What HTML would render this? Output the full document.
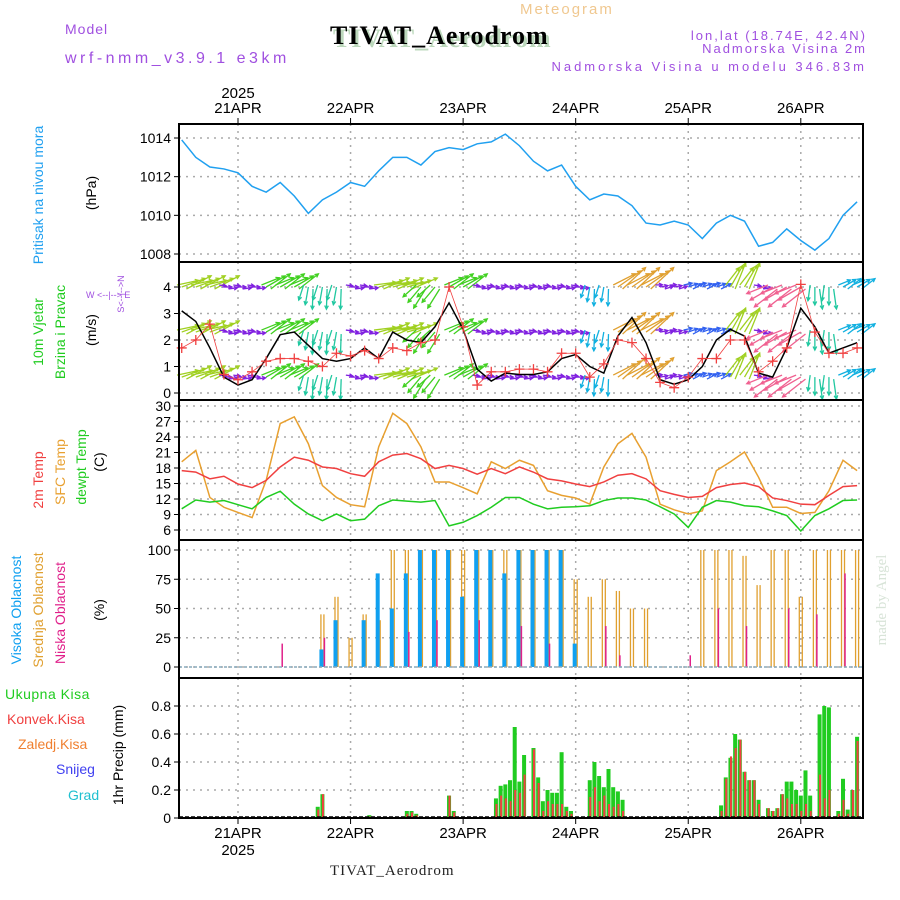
<!DOCTYPE html>
<html><head><meta charset="utf-8"><style>
body{margin:0;background:#fff;width:900px;height:900px;overflow:hidden;font-family:"Liberation Sans",sans-serif}
svg{display:block}
</style></head><body>
<svg id="chart" width="900" height="900" xmlns="http://www.w3.org/2000/svg"></svg>
<script>
const hours3=[12,15,18,21,24,27,30,33,36,39,42,45,48,51,54,57,60,63,66,69,72,75,78,81,84,87,90,93,96,99,102,105,108,111,114,117,120,123,126,129,132,135,138,141,144,147,150,153,156];
const pressure=[1013.9,1013.0,1012.5,1012.4,1012.2,1011.5,1011.2,1011.7,1011.0,1010.1,1010.8,1011.2,1011.7,1011.5,1012.3,1013.0,1013.0,1012.6,1013.3,1013.5,1013.4,1013.7,1013.8,1014.2,1013.6,1012.8,1012.3,1012.6,1011.5,1010.8,1011.1,1011.0,1010.5,1009.6,1009.5,1009.7,1009.5,1008.8,1009.6,1010.0,1009.7,1008.4,1008.6,1009.3,1008.7,1008.2,1008.8,1010.0,1010.7];
const windSpeed=[3.1,2.7,1.7,0.6,0.3,0.5,1.3,2.2,2.3,1.8,1.3,1.2,1.3,1.7,1.3,2.3,2.0,1.9,2.5,3.4,2.4,0.9,0.45,0.75,0.7,0.7,0.8,1.3,1.45,1.0,0.75,2.15,2.85,1.9,0.5,0.33,0.5,1.0,2.0,2.4,2.15,0.75,0.6,1.7,3.2,2.5,1.5,1.7,1.9];
const windGust=[1.7,2.0,2.6,0.7,0.5,0.8,1.2,1.3,1.3,1.2,1.0,1.5,1.4,1.6,1.3,1.7,1.6,1.9,2.0,4.0,2.5,0.3,0.8,0.8,0.9,0.9,0.8,1.5,1.5,0.6,1.1,2.0,1.9,1.3,0.4,0.2,0.6,1.3,1.3,2.0,2.0,0.8,1.2,1.7,4.1,2.3,1.5,1.5,1.7];
const windDir=[20,20,20,0,0,0,30,30,30,-100,-100,-100,0,0,15,15,15,-130,-130,30,30,0,0,0,0,0,0,0,0,-100,-100,35,35,35,10,10,20,20,20,60,60,0,-150,-150,-150,-90,-90,30,30];
const windLen=[25,25,25,8,8,8,22,22,22,18,18,18,8,8,25,25,25,20,20,22,22,8,8,8,8,8,8,8,8,15,15,28,28,28,8,8,10,10,10,25,25,8,26,26,26,18,18,15,15];
const t2m=[17.5,17.2,15.9,16.4,14.9,14.2,15.6,18.2,20.1,19.5,18.2,17.9,16.9,16.4,19.2,20.5,20.8,19.8,17.9,18.5,17.9,16.8,17.9,16.9,18.2,17.2,15.9,15.5,14.9,14.4,15.3,16.6,16.9,15.9,13.6,12.9,12.3,12.5,14.2,14.8,15.1,14.4,12.2,11.7,11.0,10.9,12.7,14.4,14.6];
const tSfc=[19.2,21.4,12.3,10.4,9.4,8.4,15.6,26.6,27.9,22.7,14.6,12.3,10.9,10.5,22.1,28.6,26.6,22.1,15.3,15.3,14.2,13.0,19.2,17.9,19.5,18.5,13.6,12.7,12.2,11.0,18.2,22.7,24.7,20.1,11.0,9.9,9.1,9.7,17.5,19.2,21.1,16.2,10.4,10.4,9.2,9.4,13.6,19.5,17.5];
const tDew=[10.1,11.8,11.4,11.7,10.9,10.1,12.3,13.5,11.0,9.1,7.8,9.1,7.8,8.1,10.7,11.8,11.6,11.4,11.7,6.8,7.5,8.8,10.4,12.3,12.3,11.0,10.1,10.4,10.5,10.7,11.7,12.2,12.2,11.8,10.5,9.1,6.5,10.4,11.7,11.4,10.7,10.5,9.7,8.8,5.8,8.8,10.1,11.7,11.8];
const cloudHigh=[0,0,0,0,0,0,0,0,0,0,15,40,0,40,80,50,80,100,100,100,60,100,100,80,100,100,100,100,20,0,0,0,0,0,0,0,0,0,0,0,0,0,0,0,0,0,0,0,0];
const cloudMid=[0,0,0,0,0,0,0,0,0,0,45,60,25,45,40,100,100,100,100,100,100,100,100,100,100,100,100,100,75,60,75,65,50,50,0,0,0,100,100,100,95,70,100,100,60,100,100,100,100];
const cloudLow=[0,0,0,0,0,0,0,20,0,0,25,0,0,0,0,0,30,0,40,0,0,40,0,0,35,0,20,0,0,0,35,10,0,0,0,0,10,0,50,0,35,0,0,50,0,45,0,80,0];
const precipHours=[41,42,52,60,61,62,69,70,79,80,81,82,83,84,85,87,88,89,90,91,92,93,94,95,99,100,101,102,103,104,105,106,127,128,129,130,131,132,133,134,135,137,138,139,140,141,142,143,144,145,146,148,149,150,152,153,154,155,156];
const precipTotal=[0.08,0.17,0.02,0.05,0.05,0.03,0.16,0.05,0.14,0.23,0.24,0.27,0.65,0.26,0.45,0.5,0.29,0.12,0.2,0.18,0.18,0.47,0.08,0.05,0.27,0.4,0.3,0.22,0.35,0.22,0.19,0.13,0.09,0.29,0.43,0.6,0.56,0.33,0.27,0.27,0.13,0.07,0.05,0.07,0.17,0.26,0.26,0.2,0.16,0.34,0.16,0.74,0.8,0.79,0.05,0.28,0.06,0.2,0.58];
const precipConv=[0.06,0.17,0.01,0.03,0.04,0.02,0.16,0.04,0.1,0.16,0.14,0.12,0.2,0.18,0.31,0.49,0.25,0.05,0.12,0.1,0.1,0.1,0.05,0.03,0.15,0.22,0.12,0.16,0.1,0.08,0.1,0.05,0.05,0.28,0.44,0.5,0.56,0.33,0.27,0.27,0.1,0.07,0.05,0.07,0.17,0.14,0.1,0.1,0.05,0.1,0.05,0.31,0.14,0.2,0.03,0.13,0.03,0.2,0.55];
const dayLabels=["21APR","22APR","23APR","24APR","25APR","26APR"];
const dayHours=[24,48,72,96,120,144];
const pTicks=[1008,1010,1012,1014];
const wTicks=[0,1,2,3,4];
const tTicks=[6,9,12,15,18,21,24,27,30];
const cTicks=[0,25,50,75,100];
const rTicks=[0,0.2,0.4,0.6,0.8];

const NS="http://www.w3.org/2000/svg";
const svg=document.getElementById('chart');
function el(tag,attrs,parent,txt){const e=document.createElementNS(NS,tag);for(const k in attrs)e.setAttribute(k,attrs[k]);if(txt!==undefined)e.textContent=txt;(parent||svg).appendChild(e);return e;}
const L=179,R=863;
const X=h=>238+(h-24)*4.69;
const lin=(d0,d1,p0,p1)=>v=>p0+(v-d0)*(p1-p0)/(d1-d0);
const yP=lin(1008,1014,254,138), yW=lin(0,4,393,287), yT=lin(6,30,530,406), yC=lin(0,100,667,550), yR=lin(0,0.8,818,706);
const panels=[[124,262,'pressure-panel'],[262,400,'wind-panel'],[400,540,'temperature-panel'],[540,678,'cloud-panel'],[678,818,'precip-panel']];
const grid=el('g',{},svg);
panels.forEach(p=>{dayHours.forEach(h=>{el('line',{x1:X(h),x2:X(h),y1:p[0],y2:p[1],stroke:'#aaa','stroke-width':1.5,'stroke-dasharray':'2,5'},grid);});});
function hgrid(ticks,f,fmt,name){const g=el('g',{});
 ticks.forEach(t=>{el('line',{x1:L,x2:R,y1:f(t),y2:f(t),stroke:'#aaa','stroke-width':1.5,'stroke-dasharray':'2,5'},g);
 el('line',{x1:L-5,x2:L,y1:f(t),y2:f(t),stroke:'#000'},g);
 el('text',{x:L-8,y:f(t)+5,'text-anchor':'end','font-size':14,fill:'#000'},g,fmt(t));});}
hgrid(pTicks,yP,t=>t,'pressure-y-axis');hgrid(wTicks,yW,t=>t,'wind-y-axis');hgrid(tTicks,yT,t=>t,'temp-y-axis');hgrid(cTicks,yC,t=>t,'cloud-y-axis');hgrid(rTicks,yR,t=>t===0?'0':t.toFixed(1),'precip-y-axis');
const cg=el('g',{});
hours3.forEach((h,i)=>{
 if(cloudMid[i]>0){[-1.5,1.5].forEach(o=>{const b=el('line',{x1:X(h)+o,x2:X(h)+o,y1:yC(0),y2:yC(cloudMid[i]),stroke:'#e0a030','stroke-width':1.3},cg);});}
 if(cloudHigh[i]>0){const b=el('rect',{x:X(h)-3,y:yC(cloudHigh[i]),width:4,height:yC(0)-yC(cloudHigh[i]),fill:'#10a0f0'},cg);}
 if(cloudLow[i]>0){const b=el('line',{x1:X(h)+2,x2:X(h)+2,y1:yC(0),y2:yC(cloudLow[i]),stroke:'#e0208a','stroke-width':1.5},cg);}
});
el('line',{x1:L,x2:R,y1:yC(0),y2:yC(0),stroke:'#8ab','stroke-width':1.5,'stroke-dasharray':'3,2'});
const pg=el('g',{});
precipHours.forEach((h,i)=>{
 const b=el('rect',{x:X(h)-2,y:yR(precipTotal[i]),width:4,height:yR(0)-yR(precipTotal[i]),fill:'#20cc20'},pg);
 const c=el('rect',{x:X(h)-0.5,y:yR(precipConv[i]),width:2,height:yR(0)-yR(precipConv[i]),fill:'#f04040'},pg);
});
el('line',{x1:L,x2:R,y1:817,y2:817,stroke:'#000','stroke-width':1.5,'stroke-dasharray':'4,2'});
function line(arr,f,col,name,w){const pts=hours3.map((h,i)=>X(h)+','+f(arr[i])).join(' ');const p=el('polyline',{points:pts,fill:'none',stroke:col,'stroke-width':w||1.5});}
line(pressure,yP,'#20a0f0','pressure-line');
line(tSfc,yT,'#e8a030','sfc-temp-line');line(t2m,yT,'#f04040','temp-2m-line');line(tDew,yT,'#20cc20','dewpoint-line');
function wcol(len){return len<9?'#8020e0':len<12?'#3060f0':len<17?'#10b0e0':len<20?'#20c8a0':len<23?'#40d020':len<26?'#a0d020':len<27?'#f06090':'#e0a030';}
const wg=el('g',{});
[4.0,2.3,0.6].forEach(lv=>{hours3.forEach((h,i)=>{for(let k=-1;k<=1;k++){const x0=X(h)+k*4.69,y0=yW(lv)+k*2;const a=(windDir[i]+k*8)*Math.PI/180,len=windLen[i]*(1+k*0.12);const x1=x0+len*Math.cos(a),y1=y0-len*Math.sin(a);const c=wcol(windLen[i]);
 const g=el('g',{},wg);
 el('line',{x1:x0,y1:y0,x2:x1,y2:y1,stroke:c,'stroke-width':1.3},g);
 const b1=a+Math.PI*0.85,b2=a-Math.PI*0.85;el('polyline',{points:`${x1+4*Math.cos(b1)},${y1-4*Math.sin(b1)} ${x1},${y1} ${x1+4*Math.cos(b2)},${y1-4*Math.sin(b2)}`,fill:'none',stroke:c,'stroke-width':1.3},g);}});});
line(windSpeed,yW,'#000','wind-speed-line');
const gg=el('g',{});
hours3.forEach((h,i)=>{const x=X(h),y=yW(windGust[i]);el('path',{d:`M${x-5},${y}H${x+5}M${x},${y-5}V${y+5}`,stroke:'#f04040','stroke-width':1.3},gg);});
el('polyline',{points:hours3.map((h,i)=>X(h)+','+yW(windGust[i])).join(' '),fill:'none',stroke:'#f04040','stroke-width':0.8});
panels.forEach(p=>{const r=el('rect',{x:L,y:p[0],width:R-L,height:p[1]-p[0],fill:'none',stroke:'#000','stroke-width':2});});
dayHours.forEach((h,i)=>{el('line',{x1:X(h),x2:X(h),y1:118,y2:124,stroke:'#000'});el('line',{x1:X(h),x2:X(h),y1:818,y2:824,stroke:'#000'});
 const t=el('text',{x:X(h),y:113,'text-anchor':'middle','font-size':15},svg,dayLabels[i]);
 const b=el('text',{x:X(h),y:838,'text-anchor':'middle','font-size':15},svg,dayLabels[i]);});
el('text',{x:X(24),y:98,'text-anchor':'middle','font-size':15},svg,'2025');
el('text',{x:X(24),y:855,'text-anchor':'middle','font-size':15},svg,'2025');
</script>
<div style="position:absolute;left:0;top:0;width:900px;height:900px;pointer-events:none">
<svg width="900" height="900" style="position:absolute;left:0;top:0">
<g font-family="Liberation Sans, sans-serif">
<text x="520" y="14" font-size="15" fill="#f0c890" letter-spacing="2">Meteogram</text>
<text x="65" y="34" font-size="14" fill="#a050e0" letter-spacing="1">Model</text>
<text x="65" y="63" font-size="16" fill="#a050e0" letter-spacing="3.5">wrf-nmm_v3.9.1 e3km</text>
<text x="333" y="47" font-family="Liberation Serif, serif" font-weight="bold" font-size="26" fill="#bcd8bc" letter-spacing="1">TIVAT_Aerodrom</text>
<text x="330" y="44" font-family="Liberation Serif, serif" font-weight="bold" font-size="26" fill="#000" letter-spacing="1">TIVAT_Aerodrom</text>
<text x="867" y="40" text-anchor="end" font-size="13" fill="#a050e0" letter-spacing="2">lon,lat (18.74E, 42.4N)</text>
<text x="867" y="53" text-anchor="end" font-size="13" fill="#a050e0" letter-spacing="2">Nadmorska Visina 2m</text>
<text x="867" y="71" text-anchor="end" font-size="13" fill="#a050e0" letter-spacing="3">Nadmorska Visina u modelu 346.83m</text>
<text transform="translate(43,195) rotate(-90)" text-anchor="middle" font-size="14" fill="#20a0f0">Pritisak na nivou mora</text>
<text transform="translate(96,193) rotate(-90)" text-anchor="middle" font-size="14">(hPa)</text>
<text transform="translate(43,332) rotate(-90)" text-anchor="middle" font-size="14" fill="#20cc20">10m Vjetar</text>
<text transform="translate(65,332) rotate(-90)" text-anchor="middle" font-size="14" fill="#20cc20">Brzina i Pravac</text>
<text transform="translate(96,330) rotate(-90)" text-anchor="middle" font-size="14">(m/s)</text>
<text x="86" y="298" font-size="9" fill="#a050e0">W &lt;--|--&gt; E</text>
<text transform="translate(124,294) rotate(-90)" text-anchor="middle" font-size="9" fill="#a050e0">S&lt;--|--&gt;N</text>
<text transform="translate(43,480) rotate(-90)" text-anchor="middle" font-size="14" fill="#f04040">2m Temp</text>
<text transform="translate(65,472) rotate(-90)" text-anchor="middle" font-size="14" fill="#e8a030">SFC Temp</text>
<text transform="translate(86,467) rotate(-90)" text-anchor="middle" font-size="14" fill="#20cc20">dewpt Temp</text>
<text transform="translate(104,462) rotate(-90)" text-anchor="middle" font-size="14">(C)</text>
<text transform="translate(21,610) rotate(-90)" text-anchor="middle" font-size="14" fill="#10a0f0">Visoka Oblacnost</text>
<text transform="translate(43,610) rotate(-90)" text-anchor="middle" font-size="14" fill="#e0a030">Srednja Oblacnost</text>
<text transform="translate(65,613) rotate(-90)" text-anchor="middle" font-size="14" fill="#e0208a">Niska Oblacnost</text>
<text transform="translate(104,610) rotate(-90)" text-anchor="middle" font-size="14">(%)</text>
<text x="5" y="699" font-size="14" fill="#20cc20" letter-spacing="0.5">Ukupna Kisa</text>
<text x="7" y="724" font-size="14" fill="#f04040">Konvek.Kisa</text>
<text x="18" y="749" font-size="14" fill="#f08030">Zaledj.Kisa</text>
<text x="56" y="774" font-size="14" fill="#4040f0">Snijeg</text>
<text x="68" y="800" font-size="14" fill="#20c0d0">Grad</text>
<text transform="translate(123,755) rotate(-90)" text-anchor="middle" font-size="14">1hr Precip (mm)</text>
<text x="330" y="875" font-family="Liberation Serif, serif" font-size="15" fill="#222" letter-spacing="1">TIVAT_Aerodrom</text>
<text transform="translate(886,600) rotate(-90)" text-anchor="middle" font-family="Liberation Serif, serif" font-size="15" fill="#d8e4d8">made by Angel</text>
</g></svg></div>
</body></html>
